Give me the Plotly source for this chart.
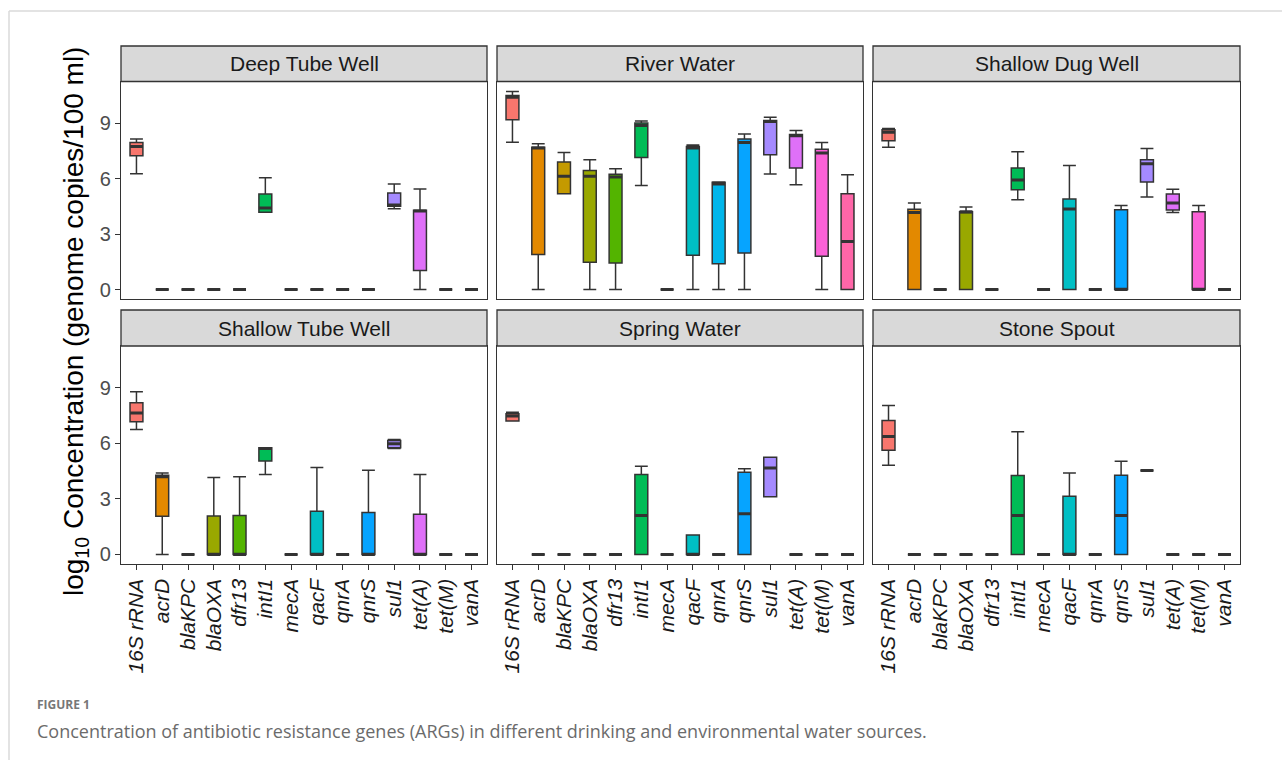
import plotly.graph_objects as go

# Gene targets (x categories, shared by every panel)
genes = ["16S rRNA", "acrD", "blaKPC", "blaOXA", "dfr13", "intI1", "mecA",
         "qacF", "qnrA", "qnrS", "sul1", "tet(A)", "tet(M)", "vanA"]

# Fill colour per gene
gene_colors = ["#F8766D", "#E38900", "#C49A00", "#99A800", "#53B400", "#00BC56", "#00C094",
               "#00BFC4", "#00B6EB", "#06A4FF", "#A58AFF", "#DF70F8", "#FB61D7", "#FF66A8"]

# Box statistics per gene: (lower whisker, Q1, median, Q3, upper whisker), log10 copies / 100 ml
Z = (0, 0, 0, 0, 0)
deep_tube_well = [
    (6.26, 7.24, 7.74, 7.95, 8.14), Z, Z, Z, Z,
    (4.18, 4.18, 4.41, 5.17, 6.05), Z, Z, Z, Z,
    (4.37, 4.50, 4.57, 5.22, 5.71),
    (0, 1.03, 4.25, 4.28, 5.44), Z, Z,
]
river_water = [
    (7.97, 9.18, 10.40, 10.49, 10.71),
    (0, 1.89, 7.65, 7.69, 7.88),
    (5.18, 5.18, 6.12, 6.89, 7.41),
    (0, 1.48, 6.12, 6.43, 7.02),
    (0, 1.44, 6.08, 6.24, 6.53),
    (5.63, 7.14, 8.87, 9.00, 9.12),
    Z,
    (0, 1.85, 7.65, 7.74, 7.81),
    (0, 1.39, 5.71, 5.80, 5.82),
    (0, 1.98, 7.95, 8.14, 8.41),
    (6.25, 7.29, 9.09, 9.14, 9.32),
    (5.67, 6.57, 8.32, 8.39, 8.60),
    (0, 1.80, 7.38, 7.59, 7.95),
    (0, 0, 2.59, 5.18, 6.21),
]
shallow_dug_well = [
    (7.70, 8.05, 8.50, 8.64, 8.71),
    (0, 0, 4.16, 4.34, 4.68), Z,
    (0, 0, 4.21, 4.21, 4.46), Z,
    (4.86, 5.40, 5.92, 6.57, 7.45), Z,
    (0, 0, 4.36, 4.90, 6.70), Z,
    (0, 0, 0, 4.32, 4.54),
    (5.00, 5.81, 6.80, 7.02, 7.63),
    (4.16, 4.30, 4.68, 5.17, 5.42),
    (0, 0, 0, 4.21, 4.54), Z,
]
shallow_tube_well = [
    (6.75, 7.16, 7.63, 8.19, 8.78),
    (0, 2.06, 4.19, 4.28, 4.40), Z,
    (0, 0, 0, 2.08, 4.15),
    (0, 0, 0, 2.11, 4.19),
    (4.31, 5.05, 5.72, 5.76, 5.76), Z,
    (0, 0, 0, 2.33, 4.69), Z,
    (0, 0, 0, 2.26, 4.55),
    (5.72, 5.76, 5.97, 6.15, 6.20),
    (0, 0, 0, 2.17, 4.31), Z, Z,
]
spring_water = [
    (7.20, 7.20, 7.47, 7.59, 7.68), Z, Z, Z, Z,
    (0, 0, 2.11, 4.31, 4.76), Z,
    (0, 0, 0, 1.05, 1.05), Z,
    (0, 0, 2.20, 4.44, 4.62),
    (3.12, 3.12, 4.67, 5.25, 5.25), Z, Z, Z,
]
stone_spout = [
    (4.82, 5.63, 6.37, 7.23, 8.04), Z, Z, Z, Z,
    (0, 0, 2.11, 4.26, 6.62), Z,
    (0, 0, 0, 3.14, 4.40), Z,
    (0, 0, 2.11, 4.28, 5.03),
    (4.53, 4.53, 4.53, 4.53, 4.53), Z, Z, Z,
]

sites = ["Deep Tube Well", "River Water", "Shallow Dug Well",
         "Shallow Tube Well", "Spring Water", "Stone Spout"]
site_stats = [deep_tube_well, river_water, shallow_dug_well,
              shallow_tube_well, spring_water, stone_spout]

y_ticks = [0, 3, 6, 9]

# ---- page geometry (pixels) ----
W, H = 1282, 760
FONT = "Liberation Sans, Arial, Helvetica, sans-serif"
DARK = "#333333"
cols_px = [(121, 487), (497, 863), (873, 1240)]
plot_rows_px = [(81.5, 299.3), (346.0, 564.3)]
strip_rows_px = [(46.0, 81.5), (310.0, 346.0)]
BOX_W = 0.5


def fx(px):
    return px / W


def fy(px):
    return 1 - px / H


fig = go.Figure()
layout = dict(
    width=W, height=H, autosize=False,
    margin=dict(l=0, r=0, t=0, b=0),
    paper_bgcolor="white", plot_bgcolor="white",
    showlegend=False, boxmode="overlay",
    font=dict(family=FONT, color=DARK),
)
shapes, annotations = [], []

for k, (site, stats) in enumerate(zip(sites, site_stats)):
    r, c = divmod(k, 3)
    ax = "" if k == 0 else str(k + 1)
    xname, yname = "x" + ax, "y" + ax

    for i, (g, col, s) in enumerate(zip(genes, gene_colors, stats)):
        lo, q1, med, q3, hi = s
        fig.add_trace(go.Box(
            x=[i], lowerfence=[lo], q1=[q1], median=[med], q3=[q3], upperfence=[hi],
            width=BOX_W, whiskerwidth=1, boxpoints=False,
            fillcolor=col, line=dict(color=DARK, width=1.5),
            name=g, hoverinfo="skip", xaxis=xname, yaxis=yname,
        ))

    # bold median bars
    mx, my = [], []
    for i, s in enumerate(stats):
        mx += [i - BOX_W / 2, i + BOX_W / 2, None]
        my += [s[2], s[2], None]
    fig.add_trace(go.Scatter(
        x=mx, y=my, mode="lines", line=dict(color=DARK, width=3),
        hoverinfo="skip", xaxis=xname, yaxis=yname,
    ))

    x0, x1 = cols_px[c]
    py0, py1 = plot_rows_px[r]
    bottom = r == 1
    left = c == 0
    layout["xaxis" + ax] = dict(
        domain=[fx(x0), fx(x1)], anchor=yname, range=[-0.6, 13.6],
        tickmode="array", tickvals=list(range(len(genes))),
        ticktext=["<i>%s</i>" % g for g in genes],
        showticklabels=bottom, ticks="outside" if bottom else "",
        ticklen=5, tickwidth=1.3, tickcolor=DARK, tickangle=-90,
        tickfont=dict(size=21, color="#1a1a1a", family=FONT),
        showline=True, mirror=True, linecolor=DARK, linewidth=1.3,
        showgrid=False, zeroline=False, fixedrange=True,
    )
    layout["yaxis" + ax] = dict(
        domain=[fy(py1), fy(py0)], anchor=xname, range=[-0.53, 11.25],
        tickmode="array", tickvals=y_ticks,
        showticklabels=left, ticks="outside" if left else "",
        ticklen=5, tickwidth=1.3, tickcolor=DARK,
        tickfont=dict(size=20, color="#4d4d4d", family=FONT),
        showline=True, mirror=True, linecolor=DARK, linewidth=1.3,
        showgrid=False, zeroline=False, fixedrange=True,
    )

    # facet strip
    sy0, sy1 = strip_rows_px[r]
    shapes.append(dict(
        type="rect", xref="paper", yref="paper",
        x0=fx(x0), x1=fx(x1), y0=fy(sy1), y1=fy(sy0),
        fillcolor="#D9D9D9", line=dict(color=DARK, width=1.3), layer="above",
    ))
    annotations.append(dict(
        text=site, xref="paper", yref="paper",
        x=fx((x0 + x1) / 2), y=fy((sy0 + sy1) / 2),
        xanchor="center", yanchor="middle", showarrow=False,
        font=dict(size=21, color="#1a1a1a", family=FONT),
    ))

# shared y-axis title
annotations.append(dict(
    text="log<sub>10</sub> Concentration (genome copies/100 ml)",
    xref="paper", yref="paper", x=fx(75), y=fy(322),
    xanchor="center", yanchor="middle", textangle=-90, showarrow=False,
    font=dict(size=28, color="black", family=FONT),
))

# figure caption
annotations.append(dict(
    text="<b>FIGURE 1</b>", xref="paper", yref="paper", x=fx(35), y=fy(704),
    xanchor="left", yanchor="middle", showarrow=False,
    font=dict(size=12, color="#777777", family="Open Sans, sans-serif"),
))
annotations.append(dict(
    text="Concentration of antibiotic resistance genes (ARGs) in different drinking and environmental water sources.",
    xref="paper", yref="paper", x=fx(35), y=fy(731),
    xanchor="left", yanchor="middle", showarrow=False,
    font=dict(size=18, color="#6b6b6b", family="Open Sans, sans-serif"),
))

# card outline
shapes.append(dict(type="line", xref="paper", yref="paper",
                   x0=fx(9), x1=1, y0=fy(11), y1=fy(11),
                   line=dict(color="#DADADA", width=1.5)))
shapes.append(dict(type="line", xref="paper", yref="paper",
                   x0=fx(9), x1=fx(9), y0=fy(11), y1=0,
                   line=dict(color="#DADADA", width=1.5)))

layout["shapes"] = shapes
layout["annotations"] = annotations
fig.update_layout(**layout)

fig.write_html("out.html", config={"displayModeBar": False})
